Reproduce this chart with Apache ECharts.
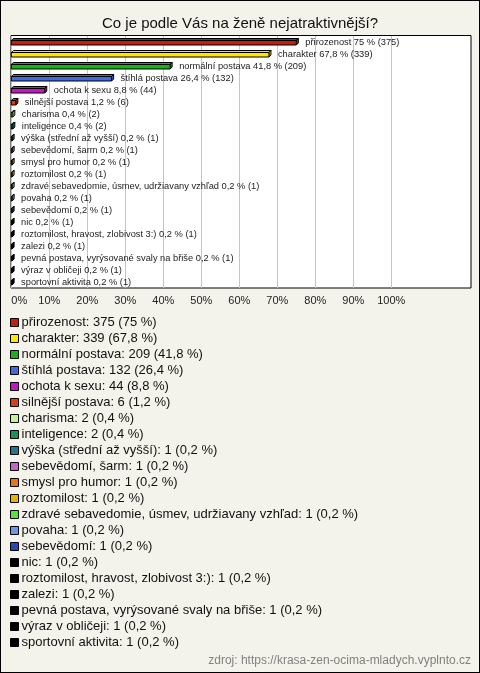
<!DOCTYPE html>
<html>
<head>
<meta charset="utf-8">
<script src="https://cdn.jsdelivr.net/npm/echarts@6/dist/echarts.min.js"></script>
<style>
html,body{margin:0;padding:0;background:#f4f3eb;}
#wrap{position:absolute;left:0;top:0;width:478px;height:671px;border:1px solid #000;background:#f4f3eb;}
#chart{width:478px;height:671px;}
</style>
</head>
<body>
<div id="wrap"><div id="chart"></div></div>
<script>
const categories = ['přirozenost','charakter','normální postava','štíhlá postava','ochota k sexu','silnější postava','charisma','inteligence','výška (střední až vyšší)','sebevědomí, šarm','smysl pro humor','roztomilost','zdravé sebavedomie, úsmev, udržiavany vzhľad','povaha','sebevědomí','nic','roztomilost, hravost, zlobivost 3:)','zalezi','pevná postava, vyrýsované svaly na břiše','výraz v obličeji','sportovní aktivita'];
const counts = [375,339,209,132,44,6,2,2,1,1,1,1,1,1,1,1,1,1,1,1,1];
const percents = [75,67.8,41.8,26.4,8.8,1.2,0.4,0.4,0.2,0.2,0.2,0.2,0.2,0.2,0.2,0.2,0.2,0.2,0.2,0.2,0.2];
const colors = ['#c41f0c','#ffe600','#14b414','#4169e1','#c814c8','#e03c0a','#c8f096','#14965a','#1e7891','#c864c8','#e67814','#e6b400','#50e632','#6e96e6','#2846b4','#000000','#000000','#000000','#000000','#000000','#000000'];
const tickLabels = ['0%','10%','20%','30%','40%','50%','60%','70%','80%','90%','100%'];

const fmt = v => String(v).replace('.', ',');

const chart = echarts.init(document.getElementById('chart'), null, {renderer:'canvas'});

function renderBar(params, api){
  const v = api.value(0), c = api.value(1);
  const p0 = api.coord([0, c]);
  const p1 = api.coord([v, c]);
  const yc = p0[1];
  const x0 = p0[0], x1 = Math.max(p1[0], x0 + 0.8);
  const d = 2;
  const yt = yc - 1.5, yb = yc + 3;
  const col = api.visual('color');
  const st = {fill: col, stroke: '#000', lineWidth: 1};
  const idx = params.seriesIndex;
  return {
    type: 'group',
    children: [
      {type:'polygon', shape:{points:[[x0,yt],[x0+d,yt-d],[x1+d,yt-d],[x1,yt]]}, style: st},
      {type:'polygon', shape:{points:[[x1,yt],[x1+d,yt-d],[x1+d,yb-d],[x1,yb]]}, style: st},
      {type:'rect', shape:{x:x0, y:yt, width:x1-x0, height:yb-yt}, style: st},
      {type:'text', x: x1 + 9, y: yc + 0.5, style:{
        text: categories[idx] + ' ' + fmt(percents[idx]) + ' % (' + counts[idx] + ')',
        fill:'#222', font:'9.3px "Liberation Sans", Arial, sans-serif', verticalAlign:'middle', align:'left'}}
    ]
  };
}

const series = categories.map((name, i) => ({
  type: 'custom',
  name: name,
  xAxisIndex: 0,
  yAxisIndex: 0,
  clip: false,
  itemStyle: {color: colors[i]},
  encode: {x: 0, y: 1},
  renderItem: renderBar,
  data: [[percents[i], i]]
}));

const option = {
  animation: false,
  backgroundColor: '#f4f3eb',
  textStyle: {fontFamily: '"Liberation Sans", Arial, sans-serif'},
  title: {
    text: 'Co je podle Vás na ženě nejatraktivnější?',
    left: 'center', top: 10,
    textStyle: {fontSize: 15, fontWeight: 'normal', color: '#111', fontFamily: '"Liberation Sans", Arial, sans-serif'}
  },
  grid: [
    {left: 10.3, top: 35, width: 380, height: 252, show: false, containLabel: false},
    {left: 10, top: 34.5, width: 460, height: 252.5, show: true, backgroundColor: '#ffffff', borderColor: '#000', borderWidth: 1, z: 0}
  ],
  xAxis: [
    {type: 'value', gridIndex: 0, min: 0, max: 100, interval: 10,
     axisLine: {show: false}, axisTick: {show: false},
     splitLine: {show: true, lineStyle: {color: '#c4c4c4', width: 1}},
     axisLabel: {margin: 7, fontSize: 11, color: '#222', alignMinLabel: 'left', formatter: (v) => tickLabels[Math.round(v/10)]}},
    {type: 'value', gridIndex: 1, min: 0, max: 1, show: false}
  ],
  yAxis: [
    {type: 'category', gridIndex: 0, data: categories, inverse: true, show: false},
    {type: 'value', gridIndex: 1, min: 0, max: 1, show: false}
  ],
  legend: {
    orient: 'vertical', left: 4, top: 310,
    itemWidth: 8, itemHeight: 8, itemGap: 3,
    icon: 'rect', selectedMode: false,
    itemStyle: {borderColor: '#000', borderWidth: 1},
    textStyle: {fontSize: 13, color: '#111', padding: [0,0,0,-2]},
    formatter: (name) => { const i = categories.indexOf(name); return name + ': ' + counts[i] + ' (' + fmt(percents[i]) + ' %)'; },
    data: categories
  },
  graphic: [
    {type: 'text', right: 8, top: 654, style: {text: 'zdroj: https://krasa-zen-ocima-mladych.vyplnto.cz', fill: '#808080', font: '12px "Liberation Sans", Arial, sans-serif'}}
  ],
  series: series
};
chart.setOption(option);
</script>
</body>
</html>
